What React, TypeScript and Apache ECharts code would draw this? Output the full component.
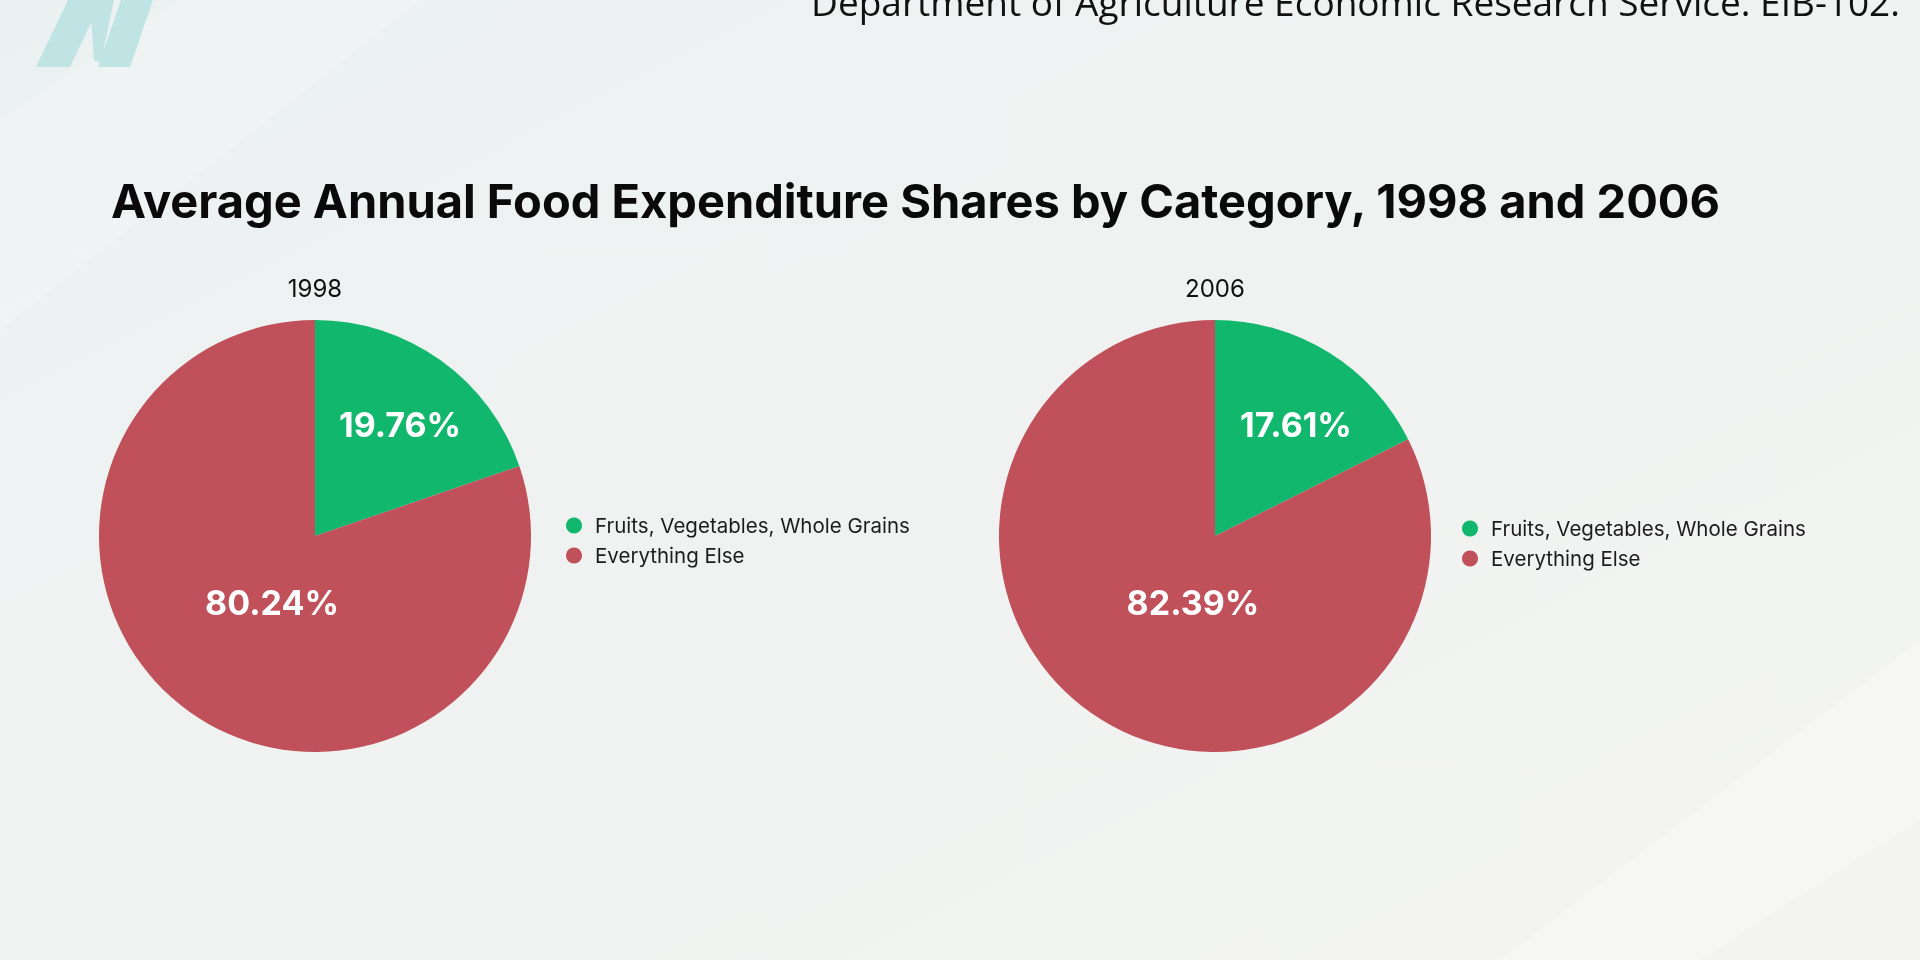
import React, { useEffect, useRef } from 'react';
import * as echarts from 'echarts';

const CATEGORIES = ['Fruits, Vegetables, Whole Grains', 'Everything Else'];
const YEARS = ['1998', '2006'];
const SHARES_1998 = [19.76, 80.24];
const SHARES_2006 = [17.61, 82.39];
const SERIES_VALUES = [SHARES_1998, SHARES_2006];

const TITLE = 'Average Annual Food Expenditure Shares by Category, 1998 and 2006';
const SOURCE = 'Department of Agriculture Economic Research Service. EIB-102.';

// layout / style config
const SLICE_COLORS = ['#12b76e', '#c0505a'];
const PIE_CENTERS = [[315, 536], [1215, 536]];
const PIE_R = 216;
const LEGEND_POS = [[566, 515], [1462, 518]];
// label anchor offsets from pie centre, as fractions of the radius
const LABEL_ANCHORS = [
  [[0.394, -0.515], [-0.199, 0.306]],
  [[0.375, -0.515], [-0.102, 0.306]],
];
const FONT = 'Inter, Lato, sans-serif';

export default function App() {
  const ref = useRef<HTMLDivElement>(null);
  useEffect(() => {
    if (!ref.current) return;
    const chart = echarts.init(ref.current, undefined, { renderer: 'svg' });

    const series = SERIES_VALUES.map((vals, s) => ({
      type: 'pie',
      name: YEARS[s],
      center: PIE_CENTERS[s],
      radius: [0, PIE_R],
      startAngle: 90,
      clockwise: true,
      silent: true,
      itemStyle: { borderWidth: 0 },
      label: {
        show: true,
        position: 'inside',
        color: '#ffffff',
        fontFamily: FONT,
        fontWeight: 'bold',
        fontSize: 34,
        formatter: (p: any) => `${Number(p.value).toFixed(2)}%`,
      },
      labelLine: { show: false },
      labelLayout: (p: any) => {
        const a = LABEL_ANCHORS[p.seriesIndex][p.dataIndex];
        const c = PIE_CENTERS[p.seriesIndex];
        return {
          x: c[0] + a[0] * PIE_R,
          y: c[1] + a[1] * PIE_R,
          align: 'center',
          verticalAlign: 'middle',
        };
      },
      data: vals.map((v, i) => ({
        name: CATEGORIES[i],
        value: v,
        itemStyle: { color: SLICE_COLORS[i] },
      })),
    }));

    const legends = LEGEND_POS.map((pos) => ({
      orient: 'vertical',
      left: pos[0],
      top: pos[1],
      padding: 0,
      icon: 'circle',
      itemWidth: 16,
      itemHeight: 16,
      itemGap: 9,
      selectedMode: false,
      data: CATEGORIES,
      textStyle: {
        color: '#1c1c1c',
        fontFamily: FONT,
        fontSize: 20.5,
        padding: [0, 0, 0, 8],
      },
    }));

    const titles = [
      {
        text: TITLE,
        left: 111,
        top: 200,
        padding: 0,
        textVerticalAlign: 'middle',
        textStyle: { color: '#0a0a0a', fontFamily: FONT, fontWeight: 'bold', fontSize: 47 },
      },
      ...YEARS.map((y, s) => ({
        text: y,
        left: PIE_CENTERS[s][0],
        top: 288,
        padding: 0,
        textAlign: 'center',
        textVerticalAlign: 'middle',
        textStyle: { color: '#111111', fontFamily: FONT, fontWeight: 'normal', fontSize: 24 },
      })),
      {
        text: SOURCE,
        left: 1900,
        top: 1,
        padding: 0,
        textAlign: 'right',
        textVerticalAlign: 'middle',
        textStyle: { color: '#111111', fontFamily: '"Open Sans", sans-serif', fontWeight: 'normal', fontSize: 37 },
      },
    ];

    const logoColor = '#c0e4e4';
    chart.setOption({
      animation: false,
      title: titles,
      legend: legends,
      series,
      graphic: [
        {
          type: 'rect',
          z: -100,
          silent: true,
          shape: { x: 0, y: 0, width: 1920, height: 960 },
          style: {
            fill: new echarts.graphic.LinearGradient(0, 0, 1, 1, [
              { offset: 0, color: '#ebf1f1' },
              { offset: 0.5, color: '#f0f2f1' },
              { offset: 1, color: '#f3f4f2' },
            ]),
          },
        },
        {
          type: 'polygon',
          z: -90,
          silent: true,
          shape: { points: [[0, 120], [180, 0], [420, 0], [0, 330]] },
          style: { fill: 'rgba(255,255,255,0.18)' },
        },
        {
          type: 'polygon',
          z: -90,
          silent: true,
          shape: { points: [[1500, 960], [1920, 640], [1920, 820], [1700, 960]] },
          style: { fill: 'rgba(255,255,255,0.25)' },
        },
        {
          type: 'group',
          silent: true,
          children: [
            { type: 'polygon', shape: { points: [[36, 67], [70, 67], [102, 0], [68, 0]] }, style: { fill: logoColor } },
            { type: 'polygon', shape: { points: [[90, 0], [114, 0], [101, 62], [94, 61]] }, style: { fill: logoColor } },
            { type: 'polygon', shape: { points: [[98, 67], [130, 67], [153, 0], [121, 0]] }, style: { fill: logoColor } },
          ],
        },
      ],
    });
    return () => chart.dispose();
  }, []);

  return (
    <div
      ref={ref}
      style={{ position: 'fixed', left: 0, top: 0, width: 1920, height: 960 }}
    />
  );
}
